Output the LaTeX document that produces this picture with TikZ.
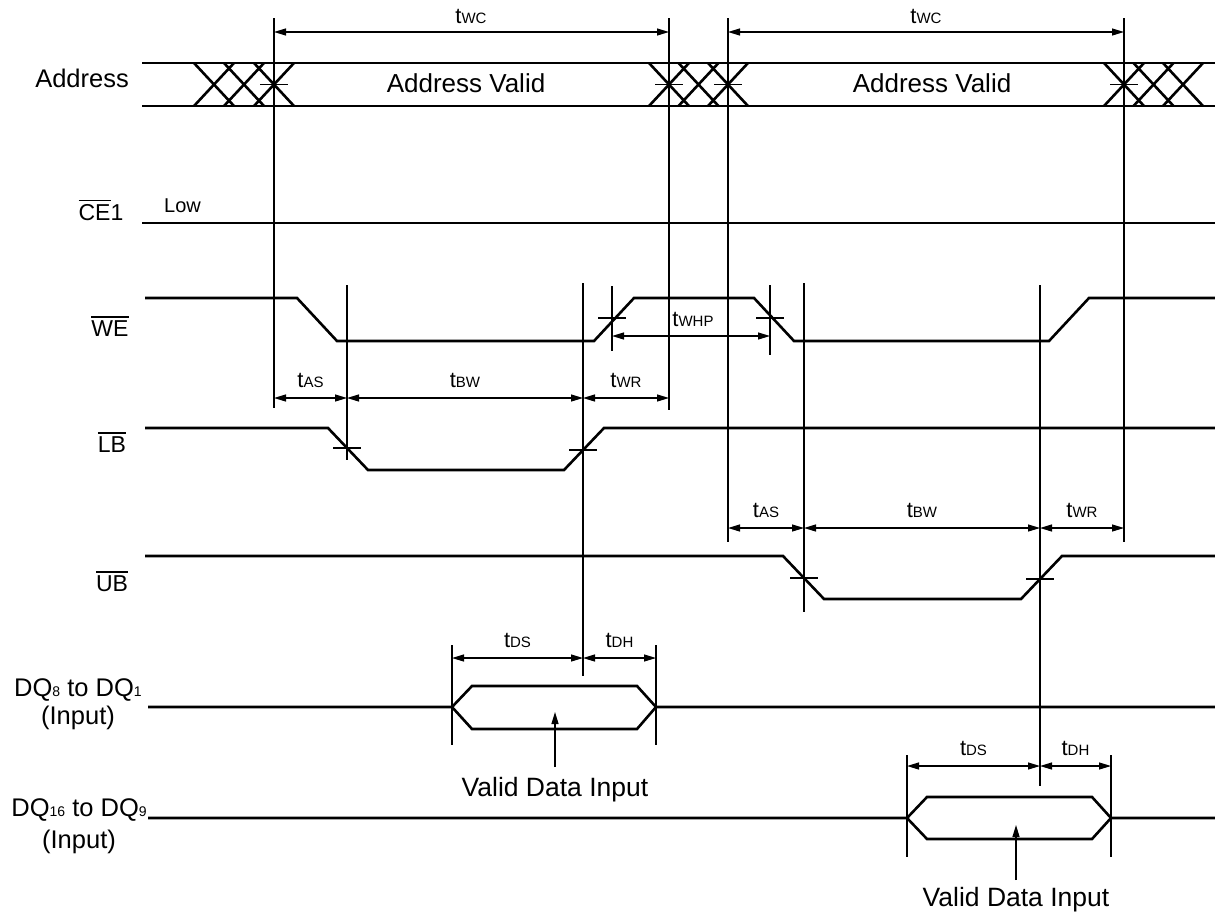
\documentclass[tikz,border=0pt]{standalone}
\usepackage{fontspec}
\setmainfont{Liberation Sans}
\usetikzlibrary{arrows.meta}
\newcommand\ovl[1]{\vbox{\hrule height 1.3pt\kern 2.5pt\hbox{#1}}}
\newcommand\tim[1]{{\fontsize{22}{26}\selectfont t}{\fontsize{15}{18}\selectfont #1}}
\newcommand\sm[1]{{\fontsize{14}{16}\selectfont #1}}
\begin{document}
\begin{tikzpicture}[x=1pt,y=-1pt,
  sig/.style={line width=2.6pt, line join=miter},
  thin/.style={line width=1.2pt},
  dimarr/.style={line width=1.2pt, {Triangle[length=12pt,width=7pt]}-{Triangle[length=12pt,width=7pt]}},
  uparr/.style={line width=1.2pt, -{Triangle[length=12pt,width=7pt]}},
  lab/.style={font=\fontsize{25.5}{30}\selectfont, inner sep=0pt, anchor=base},
  sml/.style={font=\fontsize{23}{28}\selectfont, inner sep=0pt, anchor=base},
  tl/.style={anchor=base, inner sep=0pt}]
\useasboundingbox[fill=white] (0,0) rectangle (1215,916);

% ---- left labels
\node[lab, anchor=base east] (lAddr) at (129,87) {Address};
\node[sml] (lCE) at (101,220) {\ovl{CE}1};
\node[font=\fontsize{20}{24}\selectfont, inner sep=0pt, anchor=base west] (lLow) at (164,212) {Low};
\node[sml] (lWE) at (110,336) {\ovl{WE}};
\node[sml] (lLB) at (112,452) {\ovl{LB}};
\node[sml] (lUB) at (112,591) {\ovl{UB}};
\node[lab] (lDQa) at (78,696) {DQ\sm{8} to DQ\sm{1}};
\node[lab] (lDQb) at (78,724) {(Input)};
\node[lab] (lDQc) at (79,816) {DQ\sm{16} to DQ\sm{9}};
\node[lab] (lDQd) at (79,848) {(Input)};

% ---- Address bus
\draw[sig] (142,63) -- (1215,63);
\draw[sig] (142,106) -- (1215,106);
\foreach \c in {214,244,274,669,698.5,728,1124,1153.5,1183}
  \draw[sig] (\c-20,63) -- (\c+20,106) (\c-20,106) -- (\c+20,63);
\node[font=\fontsize{26}{30}\selectfont, inner sep=0pt, anchor=base] (av1) at (466,92) {Address Valid};
\node[font=\fontsize{26}{30}\selectfont, inner sep=0pt, anchor=base] (av2) at (932,92) {Address Valid};

% ---- CE1
\draw[sig] (142,223) -- (1215,223);

% ---- WE
\draw[sig] (145,298) -- (297,298) -- (337,341) -- (594,341) -- (634,298) -- (754,298) -- (794,341) -- (1049,341) -- (1089,298) -- (1215,298);

% ---- LB
\draw[sig] (145,428) -- (328,428) -- (368,470) -- (564,470) -- (604,428) -- (1215,428);

% ---- UB
\draw[sig] (145,556) -- (783,556) -- (824,599) -- (1021,599) -- (1062,556) -- (1215,556);

% ---- DQ8..DQ1
\draw[sig] (148,707) -- (452,707) -- (472,686) -- (637,686) -- (656,707) -- (1215,707);
\draw[sig] (452,707) -- (472,729) -- (637,729) -- (656,707);

% ---- DQ16..DQ9
\draw[sig] (148,818) -- (907,818) -- (927,797) -- (1092,797) -- (1111,818) -- (1215,818);
\draw[sig] (907,818) -- (927,839) -- (1092,839) -- (1111,818);

% ---- vertical reference lines
\draw[thin] (274,18) -- (274,408);
\draw[thin] (669,18) -- (669,410);
\draw[thin] (728,18) -- (728,542);
\draw[thin] (1124,18) -- (1124,542);
\draw[thin] (347,285) -- (347,460);
\draw[thin] (583,283) -- (583,676);
\draw[thin] (612,286) -- (612,351);
\draw[thin] (770,285) -- (770,355);
\draw[thin] (804,283) -- (804,612);
\draw[thin] (1040,285) -- (1040,786);
\draw[thin] (452,645) -- (452,745);
\draw[thin] (656,645) -- (656,745);
\draw[thin] (907,755) -- (907,857);
\draw[thin] (1111,755) -- (1111,857);

% ---- ticks
\foreach \x/\y in {274/84.5,669/84.5,728/84.5,1124/84.5,612/318,770/318,347/448,583/450,804/578,1040/579}
  \draw[thin] (\x-14,\y) -- (\x+14,\y);

% ---- dimension arrows
\draw[dimarr] (274,32) -- (669,32);
\draw[dimarr] (728,32) -- (1124,32);
\draw[dimarr] (274,398) -- (347,398);
\draw[dimarr] (347,398) -- (583,398);
\draw[dimarr] (583,398) -- (669,398);
\draw[dimarr] (612,336) -- (770,336);
\draw[dimarr] (728,528) -- (804,528);
\draw[dimarr] (804,528) -- (1040,528);
\draw[dimarr] (1040,528) -- (1124,528);
\draw[dimarr] (452,658) -- (583,658);
\draw[dimarr] (583,658) -- (656,658);
\draw[dimarr] (907,766) -- (1040,766);
\draw[dimarr] (1040,766) -- (1111,766);

% ---- dimension labels
\node[tl] (twc1) at (471,23) {\tim{WC}};
\node[tl] (twc2) at (926,23) {\tim{WC}};
\node[tl] (tas1) at (310.5,387) {\tim{AS}};
\node[tl] (tbw1) at (465,387) {\tim{BW}};
\node[tl] (twr1) at (626,387) {\tim{WR}};
\node[tl] (twhp) at (693,326) {\tim{WHP}};
\node[tl] (tas2) at (766,517) {\tim{AS}};
\node[tl] (tbw2) at (922,517) {\tim{BW}};
\node[tl] (twr2) at (1082,517) {\tim{WR}};
\node[tl] (tds1) at (517.5,647) {\tim{DS}};
\node[tl] (tdh1) at (619.5,647) {\tim{DH}};
\node[tl] (tds2) at (973.5,755) {\tim{DS}};
\node[tl] (tdh2) at (1075.5,755) {\tim{DH}};

% ---- valid data input
\node[font=\fontsize{26.5}{30}\selectfont, inner sep=0pt, anchor=base] (vd1) at (555,796) {Valid Data Input};
\node[font=\fontsize{26.5}{30}\selectfont, inner sep=0pt, anchor=base] (vd2) at (1016,906) {Valid Data Input};
\coordinate (vd1t) at (555,712);
\coordinate (vd2t) at (1016,825);
\draw[uparr] (555,767) -- (vd1t);
\draw[uparr] (1016,880) -- (vd2t);
\end{tikzpicture}
\end{document}
